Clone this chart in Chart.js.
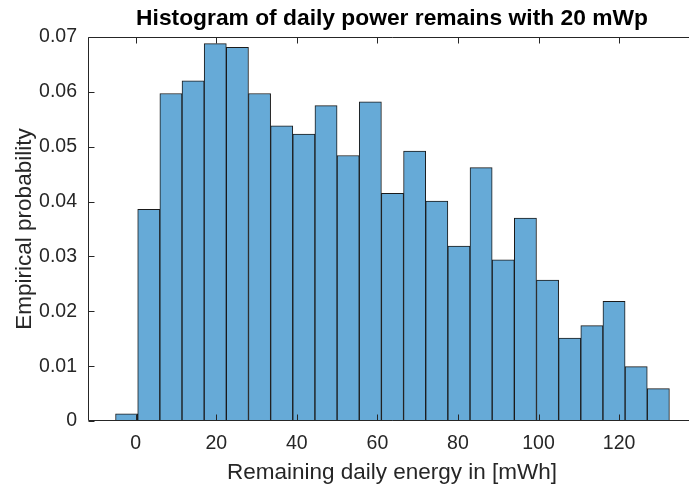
<!DOCTYPE html>
<html>
<head>
<meta charset="utf-8">
<script src="https://cdn.jsdelivr.net/npm/chart.js@4/dist/chart.umd.min.js"></script>
<style>
  html, body { margin: 0; padding: 0; background: #fff; overflow: hidden; }
  #wrap { width: 689px; height: 487px; overflow: hidden; position: relative; }
</style>
</head>
<body>
<div id="wrap"><canvas id="c" width="720" height="487"></canvas></div>
<script>
// Histogram bin edges in mWh (25 bins of 5.5 mWh)
const binEdges = [-5, 0.5, 6, 11.5, 17, 22.5, 28, 33.5, 39, 44.5, 50, 55.5, 61,
  66.5, 72, 77.5, 83, 88.5, 94, 99.5, 105, 110.5, 116, 121.5, 127, 132.5];

// Empirical probability of each bin
const probability = [0.0013, 0.0386, 0.0597, 0.0620, 0.0688, 0.0681, 0.0597,
  0.0538, 0.0523, 0.0575, 0.0484, 0.0582, 0.0415, 0.0492, 0.0401, 0.0319,
  0.0462, 0.0294, 0.0370, 0.0257, 0.0151, 0.0174, 0.0218, 0.0099, 0.0059];

const xTickValues = [0, 20, 40, 60, 80, 100, 120];
const yTickValues = [0, 0.01, 0.02, 0.03, 0.04, 0.05, 0.06, 0.07];
const yTickLabels = ['0', '0.01', '0.02', '0.03', '0.04', '0.05', '0.06', '0.07'];

const titleText = 'Histogram of daily power remains with 20 mWp';
const xLabelText = 'Remaining daily energy in [mWh]';
const yLabelText = 'Empirical probability';

const FONT = '"Liberation Sans", Arial, Helvetica, sans-serif';
const AXIS_COLOR = '#262626';
const TICK_LEN = 6;

// Bars are placed at bin centres on a linear axis; width fills the whole bin.
const points = probability.map((p, i) => ({ x: (binEdges[i] + binEdges[i + 1]) / 2, y: p }));

// Axis box, inward ticks and all titles, drawn on top of the bars.
const decorations = {
  id: 'decorations',
  afterDraw(chart) {
    const ctx = chart.ctx;
    const a = chart.chartArea;
    const xs = chart.scales.x, ys = chart.scales.y;
    const L = Math.round(a.left) + 0.5;
    const B = Math.round(a.bottom) - 0.5;
    const T = Math.round(a.top) + 0.5;
    ctx.save();
    ctx.strokeStyle = AXIS_COLOR;
    ctx.lineWidth = 1;
    ctx.beginPath();
    // box: left, bottom, top
    ctx.moveTo(L, T); ctx.lineTo(L, B);
    ctx.moveTo(L, B); ctx.lineTo(a.right, B);
    ctx.moveTo(L, T); ctx.lineTo(a.right, T);
    xTickValues.forEach(v => {
      const px = Math.round(xs.getPixelForValue(v)) + 0.5;
      ctx.moveTo(px, B); ctx.lineTo(px, B - TICK_LEN);
      ctx.moveTo(px, T); ctx.lineTo(px, T + TICK_LEN);
    });
    yTickValues.forEach(v => {
      const py = Math.round(ys.getPixelForValue(v)) + 0.5;
      ctx.moveTo(L, py); ctx.lineTo(L + TICK_LEN, py);
      ctx.moveTo(a.right, py); ctx.lineTo(a.right - TICK_LEN, py);
    });
    ctx.stroke();

    const cx = (a.left + a.right) / 2;
    ctx.fillStyle = '#000';
    ctx.font = 'bold 22.8px ' + FONT;
    ctx.textAlign = 'center';
    ctx.textBaseline = 'alphabetic';
    ctx.fillText(titleText, cx, 25);

    ctx.fillStyle = AXIS_COLOR;
    ctx.font = '22.5px ' + FONT;
    ctx.fillText(xLabelText, cx, 479);

    ctx.translate(30.5, (a.top + a.bottom) / 2);
    ctx.rotate(-Math.PI / 2);
    ctx.fillText(yLabelText, 0, 0);
    ctx.restore();
  }
};

new Chart(document.getElementById('c'), {
  type: 'bar',
  data: {
    datasets: [{
      data: points,
      backgroundColor: '#66AAD7',
      borderColor: '#1A1A1A',
      borderWidth: 1,
      barPercentage: 1,
      categoryPercentage: 1,
      grouped: false
    }]
  },
  options: {
    responsive: false,
    devicePixelRatio: 1,
    animation: false,
    layout: { padding: { top: 37, right: 24, left: 0, bottom: 0 } },
    plugins: { legend: { display: false }, tooltip: { enabled: false }, title: { display: false } },
    scales: {
      x: {
        type: 'linear',
        min: -11.84,
        max: 139.1,
        offset: false,
        grid: { display: false, drawTicks: false },
        border: { display: false },
        ticks: {
          color: AXIS_COLOR,
          font: { family: FONT, size: 19.5 },
          padding: 11,
          autoSkip: false,
          maxRotation: 0,
          callback: v => String(v)
        },
        afterBuildTicks: s => { s.ticks = xTickValues.map(v => ({ value: v })); },
        afterFit: s => { s.height = 66; }
      },
      y: {
        type: 'linear',
        min: 0,
        max: 0.07,
        grid: { display: false, drawTicks: false },
        border: { display: false },
        ticks: {
          color: AXIS_COLOR,
          font: { family: FONT, size: 19.5 },
          padding: 11,
          autoSkip: false,
          callback: (v) => {
            const i = yTickValues.findIndex(t => Math.abs(t - v) < 1e-9);
            return i >= 0 ? yTickLabels[i] : '';
          }
        },
        afterBuildTicks: s => { s.ticks = yTickValues.map(v => ({ value: v })); },
        afterFit: s => { s.width = 88; }
      }
    }
  },
  plugins: [decorations]
});
</script>
</body>
</html>
